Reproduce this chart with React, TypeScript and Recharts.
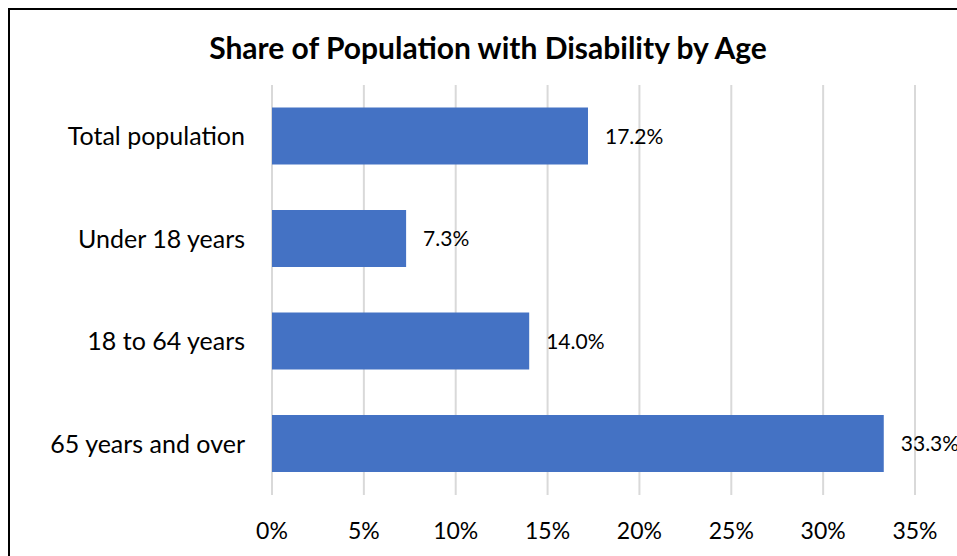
import React from 'react';
import { BarChart, Bar, XAxis, YAxis, CartesianGrid, LabelList } from 'recharts';

const categories = ['Total population', 'Under 18 years', '18 to 64 years', '65 years and over'];
const shares = [17.2, 7.3, 14.0, 33.3];
const xTicks = [0, 5, 10, 15, 20, 25, 30, 35];

const data = categories.map((name, i) => ({ name, share: shares[i] }));

const FONT = 'Lato, "Open Sans", sans-serif';

export default function App() {
  return (
    <div style={{ position: 'absolute', left: 0, top: 0, width: 957, height: 556, overflow: 'hidden', background: '#fff', fontFamily: FONT }}>
      <div style={{ position: 'absolute', left: 8, top: 8, width: 1000, height: 600, border: '2px solid #000', background: '#fff' }}>
        {/* title sits above the plot, centred like the original */}
        <div
          style={{
            position: 'absolute',
            left: 478,
            top: 22,
            transform: 'translateX(-50%)',
            whiteSpace: 'nowrap',
            fontSize: 30,
            lineHeight: 1,
            fontWeight: 700,
            color: '#000',
          }}
        >
          Share of Population with Disability by Age
        </div>
        <BarChart
          width={990}
          height={560}
          data={data}
          layout="vertical"
          margin={{ top: 75, right: 85, left: 0, bottom: 0 }}
          barCategoryGap="22%"
        >
          <CartesianGrid horizontal={false} stroke="#d9d9d9" strokeWidth={2} />
          <XAxis
            type="number"
            domain={[0, 35]}
            ticks={xTicks}
            tickFormatter={(v) => `${v}%`}
            axisLine={false}
            tickLine={false}
            tickSize={0}
            tickMargin={28}
            height={75}
            tick={{ fontSize: 23, fill: '#000', fontFamily: FONT }}
          />
          <YAxis
            type="category"
            dataKey="name"
            width={262}
            axisLine={false}
            tickLine={false}
            tickSize={0}
            tickMargin={27}
            tick={{ fontSize: 25, fill: '#000', fontFamily: FONT }}
          />
          <Bar dataKey="share" fill="#4472c4" isAnimationActive={false}>
            <LabelList
              dataKey="share"
              position="right"
              offset={17}
              formatter={(v: number) => `${v.toFixed(1)}%`}
              style={{ fontSize: 21, fill: '#000', fontFamily: FONT }}
            />
          </Bar>
        </BarChart>
      </div>
    </div>
  );
}
